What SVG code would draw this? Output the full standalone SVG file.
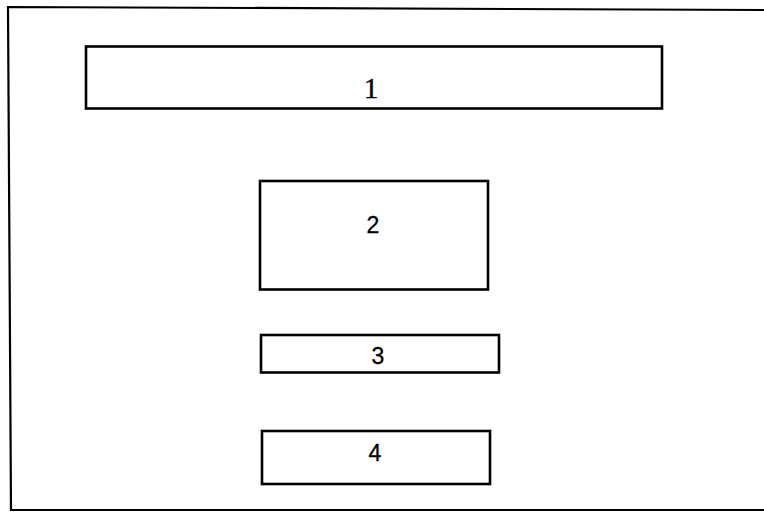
<svg xmlns="http://www.w3.org/2000/svg" width="764" height="512" viewBox="0 0 764 512">
  <style>
    .box { fill: #ffffff; stroke: #000000; stroke-width: 2.6; }
    .frame { fill: none; stroke: #000000; stroke-width: 2.2; }
    .serif { font-family: "Liberation Serif", "Times New Roman", serif; font-size: 29px; fill: #000; text-anchor: middle; stroke: #000; stroke-width: 0.4; }
    .sans { font-family: "Liberation Sans", Arial, sans-serif; font-size: 23px; fill: #000; text-anchor: middle; stroke: #000; stroke-width: 0.3; }
  </style>
  <rect width="764" height="512" fill="#ffffff"/>
  <path class="frame" d="M766 10 L8 7 L11 510 L766 510"/>
  <g id="node1">
    <rect class="box" x="86" y="46.5" width="576" height="62"/>
    <text class="serif" x="371" y="98">1</text>
  </g>
  <g id="node2">
    <rect class="box" x="260" y="181" width="228" height="108.5"/>
    <text class="sans" x="373" y="233">2</text>
  </g>
  <g id="node3">
    <rect class="box" x="261" y="335" width="238" height="37.5"/>
    <text class="sans" x="378" y="364">3</text>
  </g>
  <g id="node4">
    <rect class="box" x="262" y="431" width="228" height="53"/>
    <text class="sans" x="375" y="461">4</text>
  </g>
  <g id="connectors"/>
</svg>
